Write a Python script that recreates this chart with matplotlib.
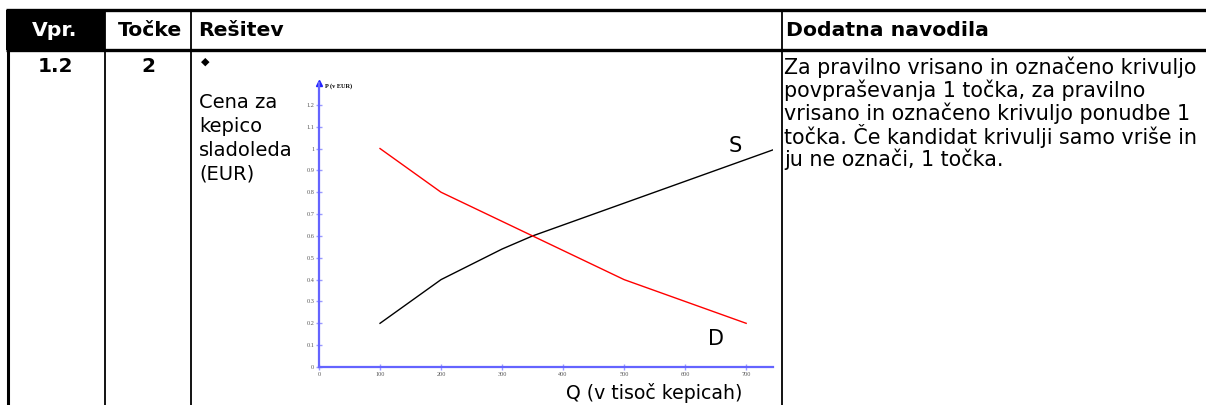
import numpy as np
import matplotlib.pyplot as plt

# podatki
q_s = [100, 200, 300, 350, 750]
p_s = [0.2, 0.4, 0.54, 0.6, 1.0]
q_d = [100, 200, 500, 700]
p_d = [1.0, 0.8, 0.4, 0.2]
x_ticks = [0, 100, 200, 300, 400, 500, 600, 700]
y_ticks = [0, 0.1, 0.2, 0.3, 0.4, 0.5, 0.6, 0.7, 0.8, 0.9, 1, 1.1, 1.2]
y_tick_labels = ["0", "0.1", "0.2", "0.3", "0.4", "0.5", "0.6", "0.7", "0.8", "0.9", "1", "1.1", "1.2"]
glava = ["Vpr.", "Točke", "Rešitev", "Dodatna navodila"]
cena = ["Cena za", "kepico", "sladoleda", "(EUR)"]
navodila = ["Za pravilno vrisano in označeno krivuljo",
            "povpraševanja 1 točka, za pravilno",
            "vrisano in označeno krivuljo ponudbe 1",
            "točka. Če kandidat krivulji samo vriše in",
            "ju ne označi, 1 točka."]

W, H = 1206, 405
fig = plt.figure(figsize=(W / 100, H / 100), dpi=100)

# tabela
tab = fig.add_axes([0, 0, 1, 1])
tab.set_xlim(0, W)
tab.set_ylim(H, 0)
tab.axis("off")

tab.fill_between([6, 105], 10, 50, color="black", lw=0)
tab.plot([6, W], [10, 10], color="black", lw=2.4, solid_capstyle="butt")
tab.plot([6, W], [50, 50], color="black", lw=2.4, solid_capstyle="butt")
tab.plot([7.5, 7.5], [10, H], color="black", lw=2.2, solid_capstyle="butt")
for xc in [105, 191, 782]:
    tab.plot([xc, xc], [10, H], color="black", lw=1.3, solid_capstyle="butt")

hfont = dict(family="DejaVu Sans", weight="bold", size=14.7, va="center")
tab.text(55, 31, glava[0], color="white", ha="center", **hfont)
tab.text(150, 31, glava[1], color="black", ha="center", **hfont)
tab.text(198, 31, glava[2], color="black", ha="left", **hfont)
tab.text(786, 31, glava[3], color="black", ha="left", **hfont)

tab.text(55, 67, "1.2", ha="center", va="center", fontsize=14.5, weight="bold",
         family="DejaVu Sans")
tab.text(148, 67, "2", ha="center", va="center", fontsize=14.5, weight="bold",
         family="DejaVu Sans")
tab.text(205, 62, "◆", ha="center", va="center", fontsize=8, family="DejaVu Sans")

for i, line in enumerate(cena):
    tab.text(199, 103 + i * 23.5, line, fontsize=14, family="DejaVu Sans",
             ha="left", va="center")
for i, line in enumerate(navodila):
    tab.text(784, 67 + i * 23, line, fontsize=14.9, family="DejaVu Sans",
             ha="left", va="center")

# graf
x0, x1 = 319, 773
y0, y1 = 367, 83
ax = fig.add_axes([x0 / W, (H - y0) / H, (x1 - x0) / W, (y0 - y1) / H])
ax.set_xlim(0, 744)
ax.set_ylim(0, 1.3)
ax.patch.set_alpha(0)
blue = "#6464ff"
for s in ["top", "right"]:
    ax.spines[s].set_visible(False)
for s in ["left", "bottom"]:
    ax.spines[s].set_color(blue)
    ax.spines[s].set_linewidth(1.6)

ax.plot(q_s, p_s, color="black", lw=1.0)
ax.plot(q_d, p_d, color="red", lw=1.0)
ax.plot([0], [1.3], marker="^", color="#2020ff", ms=4, clip_on=False)

ax.set_xticks(x_ticks)
ax.set_xticklabels([str(v) for v in x_ticks], family="Liberation Serif", fontsize=4.5,
                   color="#555555")
ax.set_yticks(y_ticks)
ax.set_yticklabels(y_tick_labels, family="Liberation Serif", fontsize=4.5, color="#555555")
ax.tick_params(direction="inout", length=5, width=1, color="#9a9aff", pad=1)

ax.text(10, 1.285, "P (v EUR)", family="Liberation Serif", fontsize=4.5, weight="bold",
        va="center", ha="left")
ax.text(682, 1.01, "S", fontsize=15, family="DejaVu Sans", ha="center", va="center")
ax.text(651, 0.13, "D", fontsize=15, family="DejaVu Sans", ha="center", va="center")

tab.text(654, 393, "Q (v tisoč kepicah)", fontsize=13.6, family="DejaVu Sans",
         ha="center", va="center")

fig.savefig("out.png", dpi=100)
